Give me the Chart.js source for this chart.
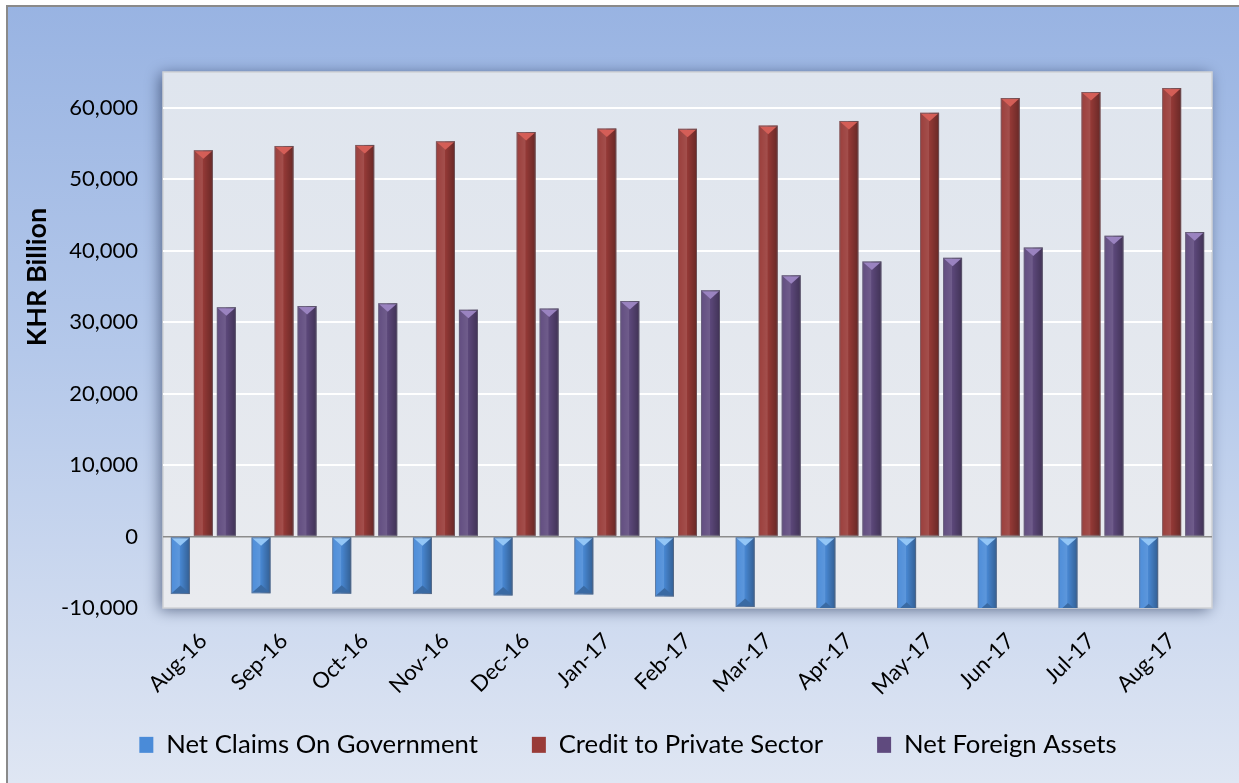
<!DOCTYPE html>
<html><head><meta charset="utf-8">
<script src="https://cdn.jsdelivr.net/npm/chart.js@4"></script>
<style>html,body{margin:0;padding:0;background:#fff}#wrap{width:1239px;height:783px}</style>
</head><body><div id="wrap"><canvas id="c" width="1239" height="783"></canvas></div>
<script>
const categories = ['Aug-16','Sep-16','Oct-16','Nov-16','Dec-16','Jan-17','Feb-17','Mar-17','Apr-17','May-17','Jun-17','Jul-17','Aug-17'];
const netClaimsOnGovernment = [-8050,-7950,-8000,-8050,-8250,-8100,-8400,-9850,-10400,-10400,-10500,-10500,-10600];
const creditToPrivateSector = [54050,54650,54800,55300,56600,57100,57050,57500,58150,59300,61350,62200,62750];
const netForeignAssets = [32100,32250,32650,31750,31900,32950,34450,36550,38500,39000,40450,42100,42600];
const yTicks = [-10000,0,10000,20000,30000,40000,50000,60000];
const seriesNames = ['Net Claims On Government','Credit to Private Sector','Net Foreign Assets'];
const yTitle = 'KHR Billion';

const FONT = 'Lato, "Open Sans", sans-serif';
const baseColors = ['#4a8bd8','#993b38','#5f4a7e'];
const topTri = ['#93c6f6','#d45e57','#9a83c0'];
const botTri = ['#3a6aa3','#6e2624','#45355c'];

const bgPlugin = {
  id: 'bg',
  beforeDraw(chart) {
    const {ctx, width, height, chartArea: a} = chart;
    ctx.save();
    ctx.fillStyle = '#ffffff';
    ctx.fillRect(0, 0, width, height);
    const g = ctx.createLinearGradient(0, 0, 0, height);
    g.addColorStop(0, '#98b3e2');
    g.addColorStop(0.45, '#b4c8ea');
    g.addColorStop(1, '#dfe6f3');
    ctx.fillStyle = g;
    ctx.fillRect(8, 7, width - 8, height - 7);
    ctx.strokeStyle = '#8a8a8a';
    ctx.lineWidth = 2;
    ctx.beginPath();
    ctx.moveTo(7, height); ctx.lineTo(7, 6); ctx.lineTo(width, 6);
    ctx.stroke();
    ctx.save();
    ctx.shadowColor = 'rgba(35,50,85,0.65)';
    ctx.shadowBlur = 14;
    ctx.shadowOffsetX = -3;
    ctx.shadowOffsetY = 2;
    const pg = ctx.createLinearGradient(0, a.top, 0, a.bottom);
    pg.addColorStop(0, '#dfe5ee');
    pg.addColorStop(1, '#e9ebef');
    ctx.fillStyle = pg;
    ctx.fillRect(a.left, a.top, a.right - a.left, a.bottom - a.top);
    ctx.restore();
    ctx.strokeStyle = '#cfd2d6';
    ctx.lineWidth = 1.5;
    ctx.strokeRect(a.left, a.top, a.right - a.left, a.bottom - a.top);
    ctx.save();
    ctx.translate(37, 277);
    ctx.rotate(-Math.PI / 2);
    ctx.font = 'bold 27px ' + FONT;
    ctx.fillStyle = '#000';
    ctx.textAlign = 'center';
    ctx.textBaseline = 'middle';
    ctx.fillText(yTitle, 0, 0);
    ctx.restore();
    ctx.restore();
  }
};

// shift the legend drawing to its place in the reference
const legendShift = { dx: 22, dy: -18 };
const legendMovePlugin = {
  id: 'legendMove',
  afterLayout(chart) {
    const lg = chart.legend;
    if (lg && !lg._moved) {
      const orig = lg.draw;
      lg.draw = function (area) {
        const ctx = chart.ctx;
        ctx.save();
        ctx.translate(legendShift.dx, legendShift.dy);
        orig.call(lg, area);
        ctx.restore();
      };
      lg._moved = true;
    }
  }
};

const bevelPlugin = {
  id: 'bevel',
  afterDatasetsDraw(chart) {
    const {ctx, chartArea: a} = chart;
    ctx.save();
    ctx.beginPath();
    ctx.rect(a.left, a.top, a.right - a.left, a.bottom - a.top);
    ctx.clip();
    chart.data.datasets.forEach((ds, di) => {
      const meta = chart.getDatasetMeta(di);
      meta.data.forEach((el) => {
        const {x, y, base, width} = el.getProps(['x','y','base','width'], true);
        const l = x - width / 2, r = x + width / 2;
        const t = Math.min(y, base), b = Math.max(y, base);
        const g = ctx.createLinearGradient(l, 0, r, 0);
        g.addColorStop(0, 'rgba(255,255,255,0.02)');
        g.addColorStop(0.45, 'rgba(255,255,255,0.10)');
        g.addColorStop(0.5, 'rgba(0,0,0,0.04)');
        g.addColorStop(1, 'rgba(0,0,0,0.32)');
        ctx.fillStyle = g;
        ctx.fillRect(l, t, width, b - t);
        const th = width * 0.45;
        ctx.fillStyle = topTri[di];
        ctx.beginPath();
        ctx.moveTo(l + 1, t + 1); ctx.lineTo(r - 1, t + 1); ctx.lineTo(x, t + th);
        ctx.closePath(); ctx.fill();
        if (y > base) {
          ctx.fillStyle = botTri[di];
          ctx.beginPath();
          ctx.moveTo(l + 1, b - 1); ctx.lineTo(r - 1, b - 1); ctx.lineTo(x, b - th);
          ctx.closePath(); ctx.fill();
        }
        ctx.strokeStyle = 'rgba(110,110,120,0.55)';
        ctx.lineWidth = 1;
        ctx.strokeRect(l + 0.5, t + 0.5, width - 1, b - t - 1);
      });
    });
    ctx.restore();
  }
};

const datasets = [netClaimsOnGovernment, creditToPrivateSector, netForeignAssets].map((d, i) => ({
  label: seriesNames[i],
  data: d,
  backgroundColor: baseColors[i],
  borderWidth: 0,
  barPercentage: 0.826,
  categoryPercentage: 0.855,
  clip: 0
}));

new Chart(document.getElementById('c'), {
  type: 'bar',
  data: { labels: categories, datasets },
  plugins: [bgPlugin, bevelPlugin, legendMovePlugin],
  options: {
    responsive: false,
    devicePixelRatio: 1,
    animation: false,
    layout: { padding: { left: 0, right: 27, top: 72, bottom: 0 } },
    plugins: {
      tooltip: { enabled: false },
      legend: {
        position: 'bottom',
        maxHeight: 87,
        labels: {
          font: { family: FONT, size: 25.7 },
          color: '#000',
          boxWidth: 14,
          boxHeight: 16,
          padding: 54
        }
      }
    },
    scales: {
      x: {
        grid: { display: false, drawTicks: false },
        border: { display: false },
        ticks: {
          autoSkip: false,
          maxRotation: 45,
          minRotation: 45,
          font: { family: FONT, size: 22 },
          color: '#000',
          padding: 20
        },
        afterFit(s) { s.height = 88; }
      },
      y: {
        min: -10000,
        max: 65000,
        afterBuildTicks(s) { s.ticks = yTicks.map(v => ({ value: v })); },
        grid: {
          drawTicks: false,
          color: (c) => c.tick && c.tick.value === 0 ? '#8c8c8c' : (c.tick && c.tick.value === -10000 ? 'rgba(0,0,0,0)' : '#ffffff'),
          lineWidth: (c) => c.tick && c.tick.value === 0 ? 1.5 : 2
        },
        border: { display: false },
        ticks: {
          font: { family: FONT, size: 22 },
          color: '#000',
          padding: 25,
          callback: (v) => Number(v).toLocaleString('en-US')
        },
        afterFit(s) { s.width = 163; }
      }
    }
  }
});
</script>
</body></html>
